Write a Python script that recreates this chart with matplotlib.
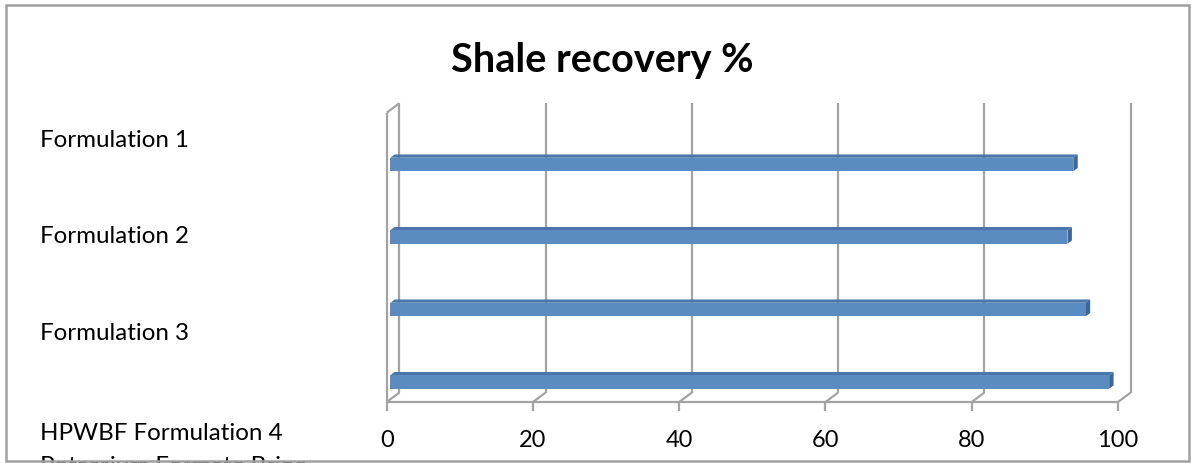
import matplotlib
matplotlib.use("Agg")
import matplotlib.pyplot as plt
from matplotlib.patches import Polygon, Rectangle

# ---- data ----
categories = [
    "Formulation 1",
    "Formulation 2",
    "Formulation 3",
    "HPWBF Formulation 4\nPotassium Formate Brine",
]
recovery = [93.4, 92.6, 95.1, 98.3]
x_ticks = [0, 20, 40, 60, 80, 100]
title = "Shale recovery %"

# ---- figure / axes (axes spans the whole canvas) ----
W, H, DPI = 1192, 463, 100
plt.rcParams["font.family"] = ["Lato", "DejaVu Sans"]
fig = plt.figure(figsize=(W / DPI, H / DPI), dpi=DPI)
ax = fig.add_axes([0, 0, 1, 1])
ax.set_axis_off()

# value axis: front plane value 0 / 100 pixel positions
x0_px, x100_px = 386.7, 1118.0
ppu = (x100_px - x0_px) / 100.0
ax.set_xlim(-x0_px / ppu, (W - x0_px) / ppu)
# category axis: bar rows, one unit per row, top row first
row0_px, row_px = 164.5, 72.5
ax.set_ylim((H - row0_px) / row_px, -row0_px / row_px)

# oblique depth vector of the 3-D box (front plane -> back plane)
DX = 12.6 / ppu
DY = -9.4 / row_px
c_top = (112.7 - row0_px) / row_px      # top of the box at the front plane
c_bot = (402.0 - row0_px) / row_px      # floor at the front plane
tick_len = 9.0 / row_px

def P(v, c, f):
    """Project a point (value, row, depth fraction) onto the plot plane."""
    return v + f * DX, c + f * DY

grid_kw = dict(color="#A3A3A3", lw=1.6, solid_capstyle="butt", zorder=1)

# back-wall gridlines, floor lines and tick marks
for t in x_ticks:
    (xa, ya), (xb, yb) = P(t, c_top, 1), P(t, c_bot, 1)
    ax.plot([xa, xb], [ya, yb], **grid_kw)
    (xc, yc) = P(t, c_bot, 0)
    ax.plot([xb, xc], [yb, yc], **grid_kw)
    ax.plot([xc, xc], [yc, yc + tick_len], **grid_kw)

# left side wall outline
(xa, ya), (xb, yb) = P(0, c_top, 0), P(0, c_bot, 0)
ax.plot([xa, xb], [ya, yb], **grid_kw)
(xc, yc) = P(0, c_top, 1)
ax.plot([xa, xc], [ya, yc], **grid_kw)
# front edge of the floor
(xa, ya), (xb, yb) = P(0, c_bot, 0), P(100, c_bot, 0)
ax.plot([xa, xb], [ya, yb], **grid_kw)

# ---- 3-D bars ----
F0, F1 = 0.286, 0.636         # bar front / back depth fractions
BH = 13.5 / row_px            # bar thickness in row units
front_col, top_col, side_col = "#5A8CC2", "#4A76AA", "#3F6796"
rows = list(range(len(categories)))
ddx, ddy = (F1 - F0) * DX, (F1 - F0) * DY

ax.barh(rows, recovery, left=F0 * DX, height=BH, color=front_col,
        edgecolor="none", zorder=4)
for r, val in zip(rows, recovery):
    x_l = F0 * DX
    x_r = x_l + val
    y_t, y_b = r - BH / 2, r + BH / 2
    top = Polygon([(x_l, y_t), (x_r, y_t), (x_r + ddx, y_t + ddy),
                   (x_l + ddx, y_t + ddy)], closed=True,
                  facecolor=top_col, edgecolor="none", zorder=3)
    side = Polygon([(x_r, y_t), (x_r, y_b), (x_r + ddx, y_b + ddy),
                    (x_r + ddx, y_t + ddy)], closed=True,
                   facecolor=side_col, edgecolor="none", zorder=3)
    ax.add_patch(top)
    ax.add_patch(side)

# ---- text ----
tick_base = (446.7 - row0_px) / row_px
for t in x_ticks:
    ax.text(t, tick_base, str(t), ha="center", va="baseline",
            fontsize=17, color="black")

# category labels: baseline of the first line of each label, in pixels
label_baselines_px = [146.7, 243.2, 339.7, 436.2]
line_pitch_px = 37.0
for lab, yb in zip(categories, label_baselines_px):
    last_base = yb + lab.count("\n") * line_pitch_px
    fig.text(40 / W, 1 - last_base / H, lab, ha="left", va="baseline",
             fontsize=17.4, color="black", linespacing=1.72)

fig.text(602 / W, 1 - 72 / H, title, ha="center", va="baseline",
         fontsize=28.5, fontweight="bold", color="black")

# chart-area border
fig.patches.append(Rectangle((5.5 / W, 1 - 460.5 / H), (1189 - 5.5) / W,
                             (460.5 - 4.5) / H, transform=fig.transFigure,
                             fill=False, edgecolor="#A0A0A0", lw=1.8,
                             zorder=10))

fig.savefig("out.png", dpi=DPI)
